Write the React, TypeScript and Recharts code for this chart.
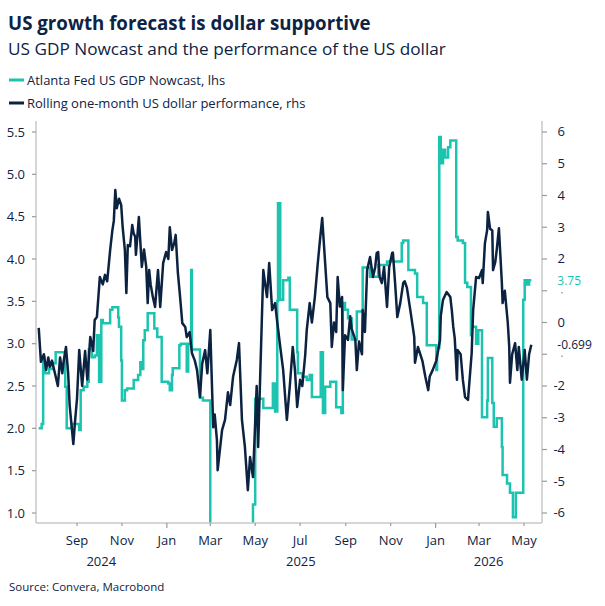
import React from 'react';
import { LineChart, Line, XAxis, YAxis, ReferenceDot } from 'recharts';

const TEAL = '#1CC4B0';
const NAVY = '#0B2240';
const TEXT = '#0E2344';
const AXIS = '#C9C9C9';
const TICK = '#9A9A9A';
const FONT = '"Open Sans", "Noto Sans", sans-serif';

// x values are days since 2024-07-01
const xDomain = [6.3, 693.5];
const monthTickDays = [62, 123, 184, 243, 304, 365, 427, 488, 549, 608, 669];
const monthTickLabels = ['Sep', 'Nov', 'Jan', 'Mar', 'May', 'Jul', 'Sep', 'Nov', 'Jan', 'Mar', 'May'];
const yearTickDays = [95, 366, 621];
const yearTickLabels = ['2024', '2025', '2026'];
const leftTicks = [1.0, 1.5, 2.0, 2.5, 3.0, 3.5, 4.0, 4.5, 5.0, 5.5];
const rightTicks = [-6, -5, -4, -3, -2, -1, 0, 1, 2, 3, 4, 5, 6];
const rightHiddenTicks = [-1, 1];
const leftDomain = [0.882, 5.63];
const rightDomain = [-6.315, 6.346];

// Atlanta Fed US GDP Nowcast (lhs)
const nowcastDays = [
  10, 14, 16, 18, 24, 29, 33, 46, 48, 55, 65, 67, 71, 76, 78, 82, 86, 89, 92, 95,
  97, 107, 110, 118, 119, 122, 123, 127, 130, 139, 145, 148, 150, 152, 154, 158, 167, 171, 177, 186,
  188, 191, 192, 201, 203, 211, 213, 217, 218, 229, 233, 243, 301, 304, 315, 328, 331, 334, 335, 338,
  342, 349, 351, 361, 362, 368, 374, 378, 381, 393, 396, 399, 406, 414, 421, 423, 426, 430, 435, 442,
  450, 460, 471, 483, 503, 505, 512, 521, 524, 532, 537, 550, 551, 554, 556, 559, 562, 566, 569, 577,
  579, 586, 589, 592, 597, 598, 604, 607, 612, 619, 620, 626, 628, 632, 639, 640, 646, 650, 654, 658,
  668, 670, 673, 676, 679,
];
const nowcastValues = [
  2.0, 2.05, 2.84, 2.65, 2.7, 2.77, 2.9, 2.49, 2.0, 2.05, 1.98, 2.45, 2.49, 2.55, 2.93, 2.84, 2.86, 3.1, 2.55, 3.28,
  3.24, 3.4, 3.43, 3.31, 3.2, 2.8, 2.33, 2.45, 2.47, 2.57, 2.63, 2.78, 2.7, 3.04, 3.16, 3.36, 3.18, 3.08, 2.55, 2.53,
  2.45, 2.63, 2.71, 2.98, 3.0, 2.67, 3.0, 3.87, 2.93, 2.36, 2.33, -2.4, 1.1, 2.35, 2.24, 2.53, 2.2, 3.5, 4.66, 3.52,
  3.75, 3.78, 3.4, 2.9, 2.65, 2.61, 2.57, 2.63, 2.37, 2.9, 2.18, 2.49, 2.55, 2.25, 2.18, 3.48, 3.4, 3.3, 3.05, 3.38,
  3.9, 3.79, 3.93, 3.97, 4.19, 4.22, 3.87, 3.83, 3.55, 3.48, 2.98, 2.69, 2.95, 5.44, 5.13, 5.29, 5.2, 5.32, 5.4, 4.26,
  4.22, 4.19, 3.72, 3.67, 3.1, 3.2, 3.0, 3.16, 2.13, 2.33, 2.83, 2.3, 2.02, 2.12, 1.78, 1.45, 1.35, 1.24, 0.95, 1.24,
  3.52, 3.75, 3.7, 3.75, 3.75,
];

// Rolling one-month US dollar performance (rhs)
const dollarDays = [
  10, 13, 17, 20, 23, 25, 28, 32, 36, 39, 42, 44, 47, 50, 52, 57, 59, 62, 65, 69,
  73, 76, 80, 84, 86, 89, 93, 97, 100, 103, 107, 110, 112, 114, 116, 119, 122, 124, 127, 129,
  131, 134, 137, 139, 141, 142, 146, 150, 153, 156, 158, 160, 162, 165, 168, 172, 175, 179, 183, 186,
  188, 191, 194, 196, 199, 202, 205, 209, 211, 215, 218, 222, 225, 229, 232, 236, 239, 243, 247, 249,
  252, 253, 259, 263, 267, 270, 274, 279, 282, 286, 290, 294, 297, 301, 306, 308, 313, 315, 317, 320,
  323, 327, 331, 334, 338, 342, 347, 351, 355, 358, 361, 365, 368, 372, 374, 378, 381, 385, 389, 392,
  395, 399, 402, 406, 408, 411, 414, 416, 419, 422, 423, 426, 430, 433, 435, 440, 442, 445, 449, 450,
  453, 456, 460, 464, 467, 469, 471, 473, 476, 479, 483, 486, 490, 491, 494, 497, 501, 505, 507, 510,
  514, 518, 520, 521, 525, 531, 535, 539, 541, 545, 550, 555, 556, 559, 564, 569, 571, 573, 575, 578,
  579, 583, 586, 589, 593, 598, 600, 604, 608, 612, 613, 616, 619, 620, 623, 626, 627, 630, 632, 635,
  639, 640, 643, 647, 649, 650, 653, 657, 660, 662, 666, 670, 673, 676, 679,
];
const dollarValues = [
  -0.17, -1.24, -1.0, -1.5, -1.1, -1.4, -1.2, -1.6, -2.0, -1.1, -1.6, -1.2, -0.77, -1.6, -2.6, -3.83, -3.2, -2.4, -0.87, -2.0,
  -0.9, -1.8, -0.46, -0.9, 0.08, 0.17, 1.43, 1.2, 1.5, 1.3, 2.28, 2.9, 3.2, 4.17, 3.6, 3.9, 3.7, 3.0, 2.28, 0.93,
  2.44, 2.4, 3.07, 2.8, 2.7, 2.13, 3.32, 1.75, 2.3, 1.75, 0.61, 1.65, 1.2, 0.8, 0.49, 1.65, 0.49, 1.87, 2.22, 2.0,
  3.0, 2.28, 2.5, 2.76, 1.56, 0.8, -0.02, -0.14, -0.46, -0.3, -0.96, -1.2, -1.5, -2.35, -1.3, -0.87, -1.6, -0.24, -3.3, -2.9,
  -3.7, -4.65, -3.39, -3.07, -2.2, -2.6, -1.7, -1.18, -0.65, -3.07, -3.92, -5.28, -4.24, -4.87, -2.0, -3.92, 0.08, 1.65, 1.3, 0.8,
  1.87, 0.39, 0.61, 0.0, -0.77, -1.5, -3.07, -2.0, -0.77, -1.5, -2.66, -1.8, -2.0, -1.0, -0.24, 0.61, 0.0, 0.8, 1.87, 2.6,
  3.29, 1.87, 0.8, 0.61, -0.77, 0.0, -0.3, 1.43, 0.5, 0.8, -2.13, -0.4, -0.55, 0.2, -0.2, -0.55, -1.5, -0.6, -1.0, 0.39,
  -0.3, 1.65, 2.06, 1.43, 1.75, 2.19, 2.22, 1.43, 1.24, 1.75, 0.49, 1.75, 2.19, 2.2, 1.24, 0.17, 0.61, 1.24, 1.3, 1.1,
  0.49, -0.14, -0.46, -1.27, -0.77, -1.2, -1.7, -2.13, -1.7, -1.5, -1.2, -0.55, 0.2, 0.71, 0.96, 0.8, 0.39, -0.14, -0.5, -1.8,
  -0.87, -1.0, -1.8, -2.35, -2.44, -0.96, 0.39, 1.43, 1.4, 1.65, 1.24, 2.5, 2.91, 3.48, 2.95, 2.9, 1.65, 1.9, 2.28, 2.97,
  1.24, 0.61, 1.0, 0.0, -0.77, -1.9, -1.0, -0.65, -1.5, -0.77, -1.8, -0.87, -1.8, -1.0, -0.699,
];

const nowcastData = nowcastDays.map((d, i) => ({ day: d, nowcast: nowcastValues[i] }));
const dollarData = dollarDays.map((d, i) => ({ day: d, dollar: dollarValues[i] }));

const MonthTick = (props: any) => {
  const { x, y, payload } = props;
  const idx = monthTickDays.indexOf(payload.value);
  const label = monthTickLabels[idx];
  const len = label === 'Jan' ? 5 : 3;
  return (
    <g>
      <line x1={x} x2={x} y1={y} y2={y + len} stroke={TICK} strokeWidth={1.2} />
      <text x={x} y={y + 22} textAnchor="middle" fill={TEXT} fontSize={13} fontFamily={FONT}>
        {label}
      </text>
    </g>
  );
};

const YearTick = (props: any) => {
  const { x, y, payload } = props;
  const idx = yearTickDays.indexOf(payload.value);
  return (
    <text x={x} y={y + 21} textAnchor="middle" fill={TEXT} fontSize={13} fontFamily={FONT}>
      {yearTickLabels[idx]}
    </text>
  );
};

const RightTick = (props: any) => {
  const { x, y, payload } = props;
  if (rightHiddenTicks.includes(payload.value)) {
    return <circle cx={x - 3} cy={y + 2} r={0.8} fill="#8a8a8a" />;
  }
  return (
    <text x={x} y={y + 4.5} textAnchor="end" fill={TEXT} fontSize={13} fontFamily={FONT}>
      {String(payload.value)}
    </text>
  );
};

const endLabel = (color: string, text: string) => (p: any) => (
  <text x={p.cx + 26} y={p.cy + 4.5} fill={color} fontSize={12} fontFamily={FONT}>
    {text}
  </text>
);

export default function App() {
  const lastNow = nowcastValues[nowcastValues.length - 1];
  const lastDol = dollarValues[dollarValues.length - 1];
  const lastDay = dollarDays[dollarDays.length - 1];
  return (
    <div style={{ position: 'absolute', left: 0, top: 0, width: 605, height: 606, background: '#fff' }}>
      <svg width={605} height={606} style={{ position: 'absolute', left: 0, top: 0 }}>
        <text x={8} y={30} fontSize={18.7} fontWeight={700} fill={TEXT} fontFamily={FONT}>
          US growth forecast is dollar supportive
        </text>
        <text x={8} y={55} fontSize={17.2} fill={TEXT} fontFamily={FONT}>
          US GDP Nowcast and the performance of the US dollar
        </text>
        <line x1={9} x2={24} y1={80} y2={80} stroke={TEAL} strokeWidth={3} />
        <text x={27} y={84.5} fontSize={13} fill={TEXT} fontFamily={FONT}>
          Atlanta Fed US GDP Nowcast, lhs
        </text>
        <line x1={9} x2={24} y1={103} y2={103} stroke={NAVY} strokeWidth={3} />
        <text x={27} y={107.5} fontSize={13} fill={TEXT} fontFamily={FONT}>
          Rolling one-month US dollar performance, rhs
        </text>
        <text x={9} y={591} fontSize={11.5} fill={TEXT} fontFamily={FONT}>
          Source: Convera, Macrobond
        </text>
      </svg>
      <LineChart
        width={605}
        height={606}
        margin={{ top: 121, right: 23, bottom: 39, left: 0 }}
        style={{ position: 'absolute', left: 0, top: 0 }}
      >
        <XAxis
          xAxisId={0}
          dataKey="day"
          type="number"
          domain={xDomain}
          allowDataOverflow
          ticks={monthTickDays}
          interval={0}
          tick={<MonthTick />}
          tickLine={false}
          tickSize={0}
          tickMargin={0}
          axisLine={{ stroke: AXIS, strokeWidth: 1.5 }}
          height={22}
        />
        <XAxis
          xAxisId="year"
          dataKey="day"
          type="number"
          domain={xDomain}
          allowDataOverflow
          ticks={yearTickDays}
          interval={0}
          tick={<YearTick />}
          tickLine={false}
          tickSize={0}
          tickMargin={0}
          axisLine={false}
          height={22}
        />
        <YAxis
          yAxisId="left"
          orientation="left"
          type="number"
          domain={leftDomain}
          allowDataOverflow
          ticks={leftTicks}
          interval={0}
          width={36}
          tickSize={4}
          tickMargin={7}
          tickLine={{ stroke: TICK, strokeWidth: 1.2 }}
          axisLine={{ stroke: AXIS, strokeWidth: 1.5 }}
          tick={{ fill: TEXT, fontSize: 13, fontFamily: FONT }}
          tickFormatter={(v: number) => v.toFixed(1)}
        />
        <YAxis
          yAxisId="right"
          orientation="right"
          type="number"
          domain={rightDomain}
          allowDataOverflow
          ticks={rightTicks}
          interval={0}
          width={40}
          tickSize={5}
          tickMargin={18}
          tickLine={{ stroke: TICK, strokeWidth: 1.2 }}
          axisLine={{ stroke: AXIS, strokeWidth: 1.5 }}
          tick={<RightTick />}
        />
        <Line
          data={nowcastData}
          dataKey="nowcast"
          xAxisId={0}
          yAxisId="left"
          type="stepAfter"
          stroke={TEAL}
          strokeWidth={2.5}
          dot={false}
          activeDot={false}
          isAnimationActive={false}
        />
        <Line
          data={dollarData}
          dataKey="dollar"
          xAxisId={0}
          yAxisId="right"
          type="linear"
          stroke={NAVY}
          strokeWidth={2.5}
          strokeLinejoin="round"
          dot={false}
          activeDot={false}
          isAnimationActive={false}
        />
        <ReferenceDot
          xAxisId={0}
          yAxisId="left"
          x={lastDay}
          y={lastNow}
          r={0}
          ifOverflow="visible"
          shape={endLabel(TEAL, String(lastNow))}
        />
        <ReferenceDot
          xAxisId={0}
          yAxisId="right"
          x={lastDay}
          y={lastDol}
          r={0}
          ifOverflow="visible"
          shape={endLabel(NAVY, String(lastDol))}
        />
      </LineChart>
    </div>
  );
}
